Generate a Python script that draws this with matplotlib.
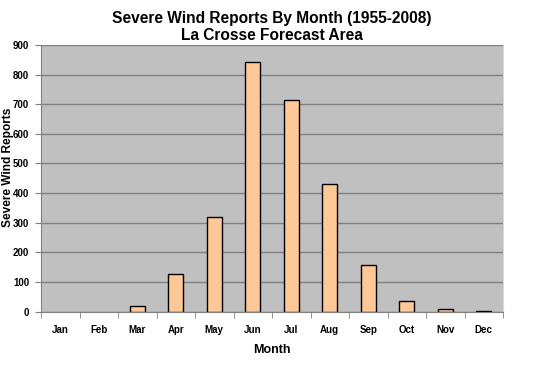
import matplotlib
matplotlib.use("Agg")
import matplotlib.pyplot as plt
import numpy as np

months = ["Jan", "Feb", "Mar", "Apr", "May", "Jun", "Jul", "Aug", "Sep", "Oct", "Nov", "Dec"]
reports = [0, 0, 18, 127, 318, 843, 715, 429, 156, 34, 8, 2]
yticks = [0, 100, 200, 300, 400, 500, 600, 700, 800, 900]

plt.rcParams['font.family'] = ['Liberation Sans', 'DejaVu Sans']

fig = plt.figure(figsize=(5.4, 3.68), dpi=100)
ax = fig.add_axes([41/540, 1 - 311.5/368, (503-41)/540, (311.5-45)/368])
ax.set_facecolor("#C0C0C0")

x = np.arange(len(months))
lw = [1.0 if v > 0 else 0.0 for v in reports]
ax.bar(x, reports, width=0.4, color="#FFC896", edgecolor="black", linewidth=lw, zorder=3)

ax.set_xlim(-0.5, 11.5)
ax.set_ylim(0, 900)
ax.set_yticks(yticks)
ax.set_yticklabels([str(v) for v in yticks], fontsize=7, fontweight="bold")
ax.set_xticks(x)
ax.set_xticklabels(months, fontsize=7, fontweight="bold")
ax.tick_params(axis="x", length=0, pad=10)
ax.set_xticks(np.arange(-0.5, 12, 1), minor=True)
ax.tick_params(axis="x", which="minor", length=4, color="#808080", direction="out")
ax.tick_params(axis="y", length=4, color="#808080", direction="out", pad=4.5)

ax.grid(axis="y", color="#808080", linewidth=1.0, zorder=1)
ax.spines["top"].set_visible(False)
ax.spines["right"].set_color("#D8D8D8")
ax.spines["left"].set_color("#808080")
ax.spines["bottom"].set_color("#808080")

ax.set_ylabel("Severe Wind Reports", fontsize=8.6, fontweight="bold")
ax.yaxis.set_label_coords((14 - 41) / 462, (311.5 - 167) / 266.5)
ax.set_xlabel("Month", fontsize=9, fontweight="bold", labelpad=6)

fig.text(272/540, 1 - 18/368, "Severe Wind Reports By Month (1955-2008)", ha="center", va="center",
         fontsize=11.2, fontweight="bold")
fig.text(272/540, 1 - 35/368, "La Crosse Forecast Area", ha="center", va="center",
         fontsize=11.2, fontweight="bold")

fig.savefig("out.png", dpi=100)
